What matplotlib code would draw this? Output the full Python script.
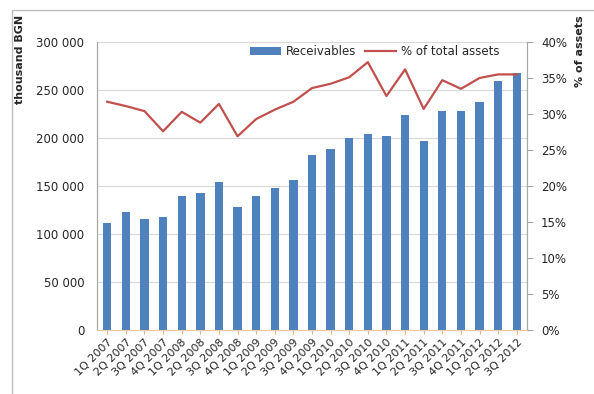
import numpy as np
import matplotlib
matplotlib.use("Agg")
import matplotlib.pyplot as plt
from matplotlib.ticker import FuncFormatter, PercentFormatter
from matplotlib.patches import Rectangle

# ─── Data ────────────────────────────────────────────────────────────────────

quarters = [
    "1Q 2007", "2Q 2007", "3Q 2007", "4Q 2007",
    "1Q 2008", "2Q 2008", "3Q 2008", "4Q 2008",
    "1Q 2009", "2Q 2009", "3Q 2009", "4Q 2009",
    "1Q 2010", "2Q 2010", "3Q 2010", "4Q 2010",
    "1Q 2011", "2Q 2011", "3Q 2011", "4Q 2011",
    "1Q 2012", "2Q 2012", "3Q 2012",
]
receivables = [
    111000, 123000, 115500, 118000,
    140000, 143000, 154000, 128000,
    140000, 148000, 156000, 182000,
    189000, 200000, 204000, 202000,
    224000, 197000, 228000, 228000,
    237000, 259000, 268000,
]
share_pct = [
    31.7, 31.1, 30.4, 27.6,
    30.3, 28.8, 31.4, 26.9,
    29.3, 30.6, 31.7, 33.6,
    34.2, 35.1, 37.2, 32.5,
    36.2, 30.7, 34.7, 33.5,
    35.0, 35.5, 35.5,
]

BAR_COLOR = "#4F81BD"
LINE_COLOR = "#C0504D"
GRID_COLOR = "#D9D9D9"
AXIS_COLOR = "#A6A6A6"
TEXT_COLOR = "#262626"

plt.rcParams.update({
    "font.family": "DejaVu Sans",
    "font.size": 8,
})

fig = plt.figure(figsize=(5.94, 3.94), dpi=100)
fig.patch.set_facecolor("white")

# Chart frame (Excel-style outer border)
fig.patches.append(Rectangle((12 / 594, -0.05), 1.1, 1 - 10 / 394 + 0.05,
                             transform=fig.transFigure, fill=False,
                             edgecolor="#BFBFBF", linewidth=1.0))

ax = fig.add_axes([97 / 594, 1 - 330 / 394, (527 - 97) / 594, (330 - 42) / 394])
ax2 = ax.twinx()

x = np.arange(len(quarters))
bars = ax.bar(x, receivables, width=0.45, color=BAR_COLOR, zorder=3,
              label="Receivables")
line, = ax2.plot(x, share_pct, color=LINE_COLOR, linewidth=1.6, zorder=4,
                 label="% of total assets")

ax.set_xlim(-0.55, len(quarters) - 0.45)
ax.set_ylim(0, 300000)
ax.set_yticks(np.arange(0, 300001, 50000))
ax.yaxis.set_major_formatter(FuncFormatter(lambda v, p: f"{int(v):,}".replace(",", " ")))
ax2.set_ylim(0, 40)
ax2.set_yticks(np.arange(0, 41, 5))
ax2.yaxis.set_major_formatter(PercentFormatter(decimals=0))

ax.grid(axis="y", color=GRID_COLOR, linewidth=0.8, zorder=0)
ax.set_axisbelow(True)

ax.set_xticks(x)
ax.set_xticklabels(quarters, rotation=45, ha="right", rotation_mode="anchor",
                   fontsize=8, color=TEXT_COLOR)
ax.tick_params(axis="x", length=3, color="#F0B080", pad=2)
ax.tick_params(axis="y", length=0, labelsize=8.5, labelcolor=TEXT_COLOR, pad=9)
ax2.tick_params(axis="y", length=4, color=AXIS_COLOR, labelsize=8.5,
                labelcolor=TEXT_COLOR, pad=6)

for a in (ax, ax2):
    a.spines["top"].set_visible(False)
    a.spines["left"].set_color(AXIS_COLOR)
    a.spines["right"].set_color(AXIS_COLOR)
    a.spines["bottom"].set_color("#E8C8A8")

fig.text(20 / 594, 1 - 15 / 394, "thousand BGN", rotation=90, ha="center",
         va="top", fontsize=8, fontweight="bold", color=TEXT_COLOR)
fig.text(580 / 594, 1 - 15 / 394, "% of assets", rotation=90, ha="center",
         va="top", fontsize=8, fontweight="bold", color=TEXT_COLOR)

leg = ax.legend([bars, line], ["Receivables", "% of total assets"],
                loc="upper right", bbox_to_anchor=(0.96, 1.025), ncol=2,
                frameon=False, fontsize=8.5, handlelength=2.6,
                columnspacing=0.8, handletextpad=0.4)
for t in leg.get_texts():
    t.set_color(TEXT_COLOR)

fig.savefig("out.png", dpi=100, facecolor="white")
